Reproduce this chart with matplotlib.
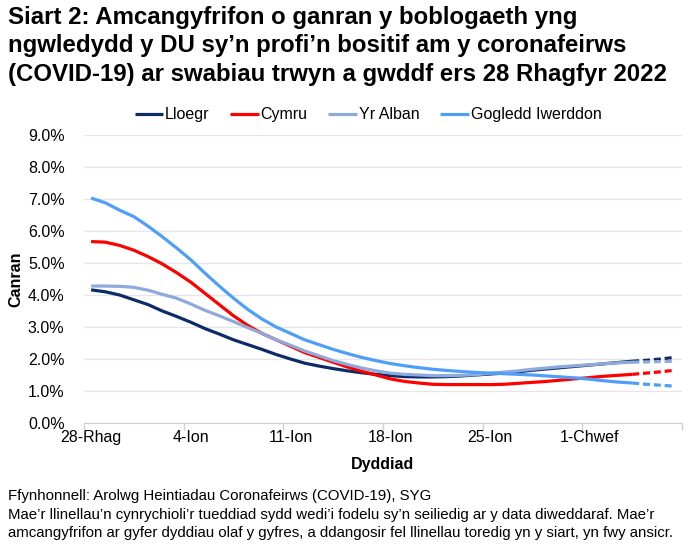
import matplotlib
matplotlib.use("Agg")
from matplotlib import pyplot as plt
from matplotlib.ticker import FixedLocator, FuncFormatter

plt.rcParams['font.family'] = ['Liberation Sans', 'DejaVu Sans']

# dyddiau: 28 Rhagfyr 2022 -> 7 Chwefror 2023 (42 diwrnod)
tick_labels = ['28-Rhag', '4-Ion', '11-Ion', '18-Ion', '25-Ion', '1-Chwef']
dashed_from = 38  # llinellau toredig o'r pwynt hwn ymlaen

lloegr = [4.16, 4.10, 4.00, 3.85, 3.70, 3.50, 3.33, 3.15, 2.95, 2.78,
          2.60, 2.45, 2.30, 2.14, 2.00, 1.87, 1.78, 1.70, 1.63, 1.57,
          1.52, 1.48, 1.45, 1.44, 1.44, 1.45, 1.47, 1.50, 1.53, 1.56,
          1.60, 1.65, 1.69, 1.73, 1.77, 1.81, 1.85, 1.89, 1.93, 1.96,
          2.00, 2.05]
cymru = [5.67, 5.65, 5.55, 5.40, 5.20, 4.97, 4.70, 4.40, 4.05, 3.70,
         3.35, 3.05, 2.80, 2.60, 2.40, 2.20, 2.05, 1.90, 1.75, 1.62,
         1.50, 1.38, 1.30, 1.25, 1.21, 1.20, 1.20, 1.20, 1.20, 1.21,
         1.24, 1.27, 1.30, 1.34, 1.38, 1.42, 1.46, 1.49, 1.52, 1.56,
         1.60, 1.65]
yr_alban = [4.28, 4.28, 4.27, 4.24, 4.15, 4.02, 3.90, 3.72, 3.52, 3.35,
            3.17, 2.98, 2.80, 2.60, 2.43, 2.25, 2.10, 1.95, 1.83, 1.72,
            1.63, 1.56, 1.52, 1.50, 1.48, 1.48, 1.49, 1.51, 1.55, 1.59,
            1.63, 1.68, 1.72, 1.76, 1.79, 1.82, 1.85, 1.88, 1.90, 1.91,
            1.92, 1.93]
gogledd_iwerddon = [7.03, 6.88, 6.65, 6.45, 6.15, 5.82, 5.47, 5.10, 4.68, 4.28,
                    3.90, 3.55, 3.25, 3.00, 2.80, 2.60, 2.45, 2.30, 2.17, 2.05,
                    1.95, 1.86, 1.79, 1.73, 1.68, 1.64, 1.61, 1.58, 1.56, 1.54,
                    1.52, 1.50, 1.47, 1.44, 1.41, 1.37, 1.32, 1.28, 1.25, 1.21,
                    1.18, 1.15]

series = [('Lloegr', lloegr, '#0b2c66'),
          ('Cymru', cymru, '#ff0000'),
          ('Yr Alban', yr_alban, '#8eaadc'),
          ('Gogledd Iwerddon', gogledd_iwerddon, '#4f9ef8')]

fig = plt.figure(figsize=(6.96, 5.6), dpi=100)
ax = fig.add_axes([84 / 696, 1 - 423 / 560, (682 - 84) / 696, (423 - 135) / 560])

x = list(range(len(lloegr)))
for name, vals, col in series:
    ax.plot(x[:dashed_from + 1], vals[:dashed_from + 1], color=col, lw=2.3,
            label=name, solid_capstyle='butt')
    ax.plot(x[dashed_from:], vals[dashed_from:], color=col, lw=2.3,
            linestyle=(0, (2.2, 1.2)))

ax.set_xlim(-0.5, len(x) - 0.5)
ax.set_ylim(0, 9)
ax.set_yticks([i for i in range(10)])
ax.yaxis.set_major_formatter(FuncFormatter(lambda v, p: f'{v:.1f}%'))
ax.set_xticks(list(range(0, 42, 7)))
ax.set_xticklabels(tick_labels)
ax.xaxis.set_minor_locator(FixedLocator([i - 0.5 for i in range(0, 43, 7)]))
ax.tick_params(axis='x', which='major', length=0, labelsize=11.5, pad=5)
ax.tick_params(axis='x', which='minor', length=5, color='#d0d0d0', width=1)
ax.tick_params(axis='y', length=0, labelsize=11.5, pad=14)
ax.grid(axis='y', color='#e6e6e6', lw=1)
ax.set_axisbelow(True)
for s in ['top', 'right', 'left']:
    ax.spines[s].set_visible(False)
ax.spines['bottom'].set_color('#d0d0d0')

ax.set_xlabel('Dyddiad', fontsize=11.5, fontweight='bold', labelpad=9)
ax.set_ylabel('Canran', fontsize=11.5, fontweight='bold', labelpad=3)

fig.legend(loc='center', bbox_to_anchor=(368 / 696, 1 - 115 / 560), ncol=4,
           frameon=False, fontsize=11.5, handlelength=1.8, handletextpad=0.1,
           columnspacing=1.3)

title = ('Siart 2: Amcangyfrifon o ganran y boblogaeth yng\n'
         'ngwledydd y DU sy\u2019n profi\u2019n bositif am y coronafeirws\n'
         '(COVID-19) ar swabiau trwyn a gwddf ers 28 Rhagfyr 2022')
fig.text(8 / 696, 1 - 6 / 560, title, ha='left', va='top', fontsize=17.3,
         fontweight='bold', linespacing=1.3)

footer = ('Ffynhonnell: Arolwg Heintiadau Coronafeirws (COVID-19), SYG\n'
          'Mae\u2019r llinellau\u2019n cynrychioli\u2019r tueddiad sydd wedi\u2019i fodelu '
          'sy\u2019n seiliedig ar y data diweddaraf. Mae\u2019r\n'
          'amcangyfrifon ar gyfer dyddiau olaf y gyfres, a ddangosir fel llinellau '
          'toredig yn y siart, yn fwy ansicr.')
fig.text(8 / 696, 1 - 489 / 560, footer, ha='left', va='top', fontsize=10.8,
         linespacing=1.42)

fig.savefig('out.png', dpi=100)
